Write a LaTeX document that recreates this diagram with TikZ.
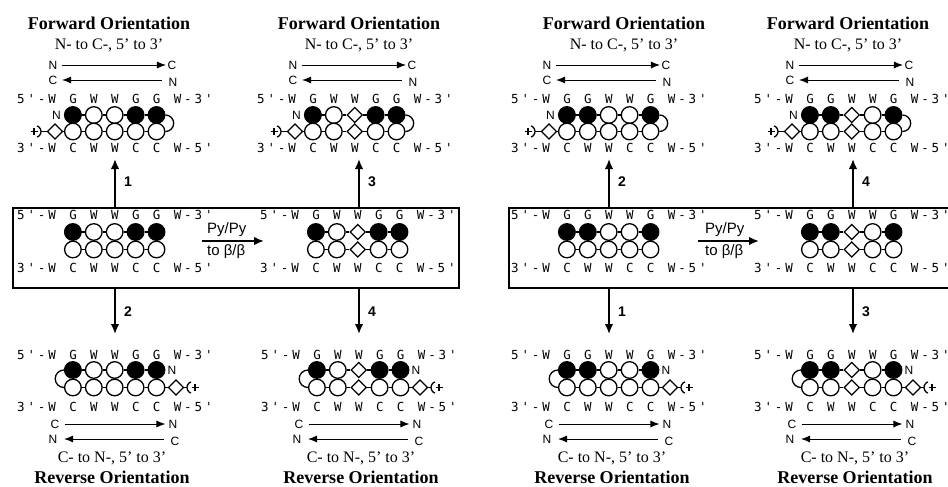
\documentclass[tikz,border=0pt]{standalone}
\usepackage{fontspec}
\setmainfont{Liberation Serif}
\setsansfont{Liberation Sans}
\newfontfamily\seqfont{DejaVu Sans Mono}
\usetikzlibrary{arrows.meta,shapes.geometric}

% evenly spaced monospace characters; a dot stands for an empty cell
\newlength\seqpitch
\setlength\seqpitch{10.45pt}
\makeatletter
\def\monostr#1{\monostr@a#1\relax}
\def\monostr@a#1{\ifx\relax#1\else\makebox[\seqpitch]{\ifx.#1\else#1\fi}\expandafter\monostr@a\fi}
\makeatother

\def\pitch{20.9}
\def\seqshift{36.6}

\tikzset{
  bead/.style={circle, draw, line width=1.3pt, minimum size=16.6pt, inner sep=0pt, fill=white},
  beadO/.style={bead},
  beadF/.style={bead, fill=black},
  beadD/.style={diamond, draw, line width=1.3pt, minimum size=15.5pt, inner sep=0pt, fill=white},
  link/.style={line width=1.3pt},
  seq/.style={inner sep=0pt, anchor=west, font=\seqfont\fontsize{12.5}{12.5}\selectfont},
  tag/.style={inner sep=0pt, font=\sffamily\fontsize{12}{12}\selectfont},
  ttl/.style={inner sep=0pt, font=\bfseries\fontsize{18}{18}\selectfont},
  subttl/.style={inner sep=0pt, font=\fontsize{16}{16}\selectfont},
  numlbl/.style={inner sep=0pt, font=\sffamily\bfseries\fontsize{14}{14}\selectfont},
  pytext/.style={inner sep=0pt, anchor=west, font=\sffamily\fontsize{15}{15}\selectfont},
  ncarrow/.style={line width=0.9pt, -{Latex[length=9pt,width=7pt]}},
  cnarrow/.style={line width=0.9pt, {Latex[length=9pt,width=7pt]}-},
  varrow/.style={line width=1.7pt, -{Latex[length=10pt,width=8.5pt]}},
  pyarrow/.style={line width=1.7pt, -{Latex[length=10pt,width=8.5pt]}},
  capline/.style={line width=1.5pt},
  panelbox/.style={draw, line width=2pt, inner sep=0pt, anchor=north west,
    minimum width=446pt, minimum height=80pt},
}

% two strands of beads, rows at #3 and #4
\newcommand\beadrows[6]{%
  \foreach \t [count=\i] in {#5} \node[bead\t] (#1-t\i) at ({#2+\pitch*\i},#3) {};
  \foreach \t [count=\i] in {#6} \node[bead\t] (#1-b\i) at ({#2+\pitch*\i},#4) {};
  \foreach \i [evaluate=\i as \j using int(\i+1)] in {1,...,4} {
    \draw[link] (#1-t\i) -- (#1-t\j);
    \draw[link] (#1-b\i) -- (#1-b\j);
  }
}

% hairpin in the forward orientation; #6 = centre of the headings
\newcommand\fwdunit[6]{%
  \node[ttl] (#1-ttl) at (#6,23) {Forward Orientation};
  \node[subttl] (#1-sub) at (#6,45) {N- to C-, 5' to 3'};
  \node[tag] (#1-n1) at ({#2+1},65) {N};
  \node[tag] (#1-c1) at ({#2+120},65) {C};
  \draw[ncarrow, shorten <=4.5pt, shorten >=1.5pt] (#1-n1.east) -- (#1-c1.west);
  \node[tag] (#1-c2) at ({#2+1},80) {C};
  \node[tag] (#1-n2) at ({#2+121},82) {N};
  \draw[cnarrow, shorten <=4.5pt, shorten >=6pt] (#1-c2.east) -- (#1-n2.west |- #1-c2.east);
  \node[seq] (#1-s5) at ({#2-\seqshift},99) {\monostr{#3}};
  \beadrows{#1}{#2}{115}{131.5}{#4}{#5}
  \node[tag] (#1-nt) at ({#2+4.5},115) {N};
  \node[beadD] (#1-d0) at ({#2+3},131.5) {};
  \draw[link] (#1-d0) -- (#1-b1);
  \coordinate (#1-cap) at ({#2-17},131.5);
  \coordinate (#1-capr) at ({#2-11},131.5);
  \draw[link] ([shift={(-70:6)}]#1-cap) arc[start angle=-70, end angle=70, radius=6];
  \draw[link] (#1-capr) -- (#1-d0);
  \draw[capline] ({#2-21.5},131.5) -- ({#2-14.5},131.5) ({#2-18},128) -- ({#2-18},135);
  \draw[link] (#1-t5.east) arc[start angle=-90, end angle=90, radius=8.25];
  \node[seq] (#1-s3) at ({#2-\seqshift},148) {\monostr{3'-W.C.W.W.C.C.W-5'}};
}

% pair of strands inside the framed panel
\newcommand\midunit[5]{%
  \node[seq] (#1-s5) at ({#2-\seqshift},215) {\monostr{#3}};
  \beadrows{#1}{#2}{232}{249.5}{#4}{#5}
  \node[seq] (#1-s3) at ({#2-\seqshift},268) {\monostr{3'-W.C.W.W.C.C.W-5'}};
}

% hairpin in the reverse orientation; #6 = centre of the headings
\newcommand\revunit[6]{%
  \node[seq] (#1-s5) at ({#2-\seqshift},355) {\monostr{#3}};
  \beadrows{#1}{#2}{370}{387.5}{#4}{#5}
  \node[tag] (#1-nt) at ({#2+120},370) {N};
  \node[beadD] (#1-d6) at ({#2+124},387.5) {};
  \draw[link] (#1-b5) -- (#1-d6);
  \coordinate (#1-cap) at ({#2+141},387.5);
  \coordinate (#1-capl) at ({#2+135},387.5);
  \draw[link] ([shift={(110:6)}]#1-cap) arc[start angle=110, end angle=250, radius=6];
  \draw[link] (#1-d6) -- (#1-capl);
  \draw[capline] ({#2+139.5},387.5) -- ({#2+146.5},387.5) ({#2+143},384) -- ({#2+143},391);
  \draw[link] (#1-t1.west) arc[start angle=-90, end angle=-270, radius=8.75];
  \node[seq] (#1-s3) at ({#2-\seqshift},407) {\monostr{3'-W.C.W.W.C.C.W-5'}};
  \node[tag] (#1-c1) at ({#2+3},424) {C};
  \node[tag] (#1-n1) at ({#2+121},424) {N};
  \draw[ncarrow, shorten <=5pt, shorten >=3pt] (#1-c1.east) -- (#1-n1.west);
  \node[tag] (#1-n2) at ({#2+1},439) {N};
  \node[tag] (#1-c2) at ({#2+123},441) {C};
  \draw[cnarrow, shorten <=6.5pt, shorten >=6pt] (#1-n2.east) -- (#1-c2.west |- #1-n2.east);
  \node[subttl] (#1-sub) at (#6,458) {C- to N-, 5' to 3'};
  \node[ttl] (#1-ttl) at (#6,477.5) {Reverse Orientation};
}

% arrows from the panel to a hairpin, with its number
\newcommand\steparrowup[4]{%
  \coordinate (#1) at (#2,159);
  \draw[varrow] (#3.north -| #1) -- (#1);
  \node[numlbl] (#1-lbl) at ({#2+13},182) {#4};
}
\newcommand\steparrowdown[4]{%
  \coordinate (#1) at (#2,334);
  \draw[varrow] (#3.south -| #1) -- (#1);
  \node[numlbl] (#1-lbl) at ({#2+13},312) {#4};
}

\begin{document}
\begin{tikzpicture}[x=1pt, y=-1pt]
\useasboundingbox (0,0) rectangle (948,487);

% ---------- left panel ----------
\node[panelbox] (boxA) at (12,207) {};
\midunit{A1m}{52}{5'-W.G.W.W.G.G.W-3'}{F,O,O,F,F}{O,O,O,O,O}
\midunit{A2m}{295}{5'-W.G.W.W.G.G.W-3'}{F,O,D,F,F}{O,O,D,O,O}
\coordinate (pyA-l) at (202,241);
\coordinate (pyA-r) at (264,241);
\draw[pyarrow] (pyA-l) -- (pyA-r);
\node[pytext] (pyA-t) at (207,230) {Py/Py};
\node[pytext] (pyA-b) at (207,252) {to β/β};

\fwdunit{A1f}{52}{5'-W.G.W.W.G.G.W-3'}{F,O,O,F,F}{O,O,O,O,O}{109}
\fwdunit{A2f}{292}{5'-W.G.W.W.G.G.W-3'}{F,O,D,F,F}{O,O,D,O,O}{359}
\revunit{A1r}{52}{5'-W.G.W.W.G.G.W-3'}{F,O,O,F,F}{O,O,O,O,O}{112}
\revunit{A2r}{296}{5'-W.G.W.W.G.G.W-3'}{F,O,D,F,F}{O,O,D,O,O}{361}

\steparrowup{a1up}{115}{boxA}{1}
\steparrowup{a2up}{359}{boxA}{3}
\steparrowdown{a1dn}{115}{boxA}{2}
\steparrowdown{a2dn}{359}{boxA}{4}

% ---------- right panel ----------
\node[panelbox] (boxB) at (508,207) {};
\midunit{B1m}{546}{5'-W.G.G.W.W.G.W-3'}{F,F,O,O,F}{O,O,O,O,O}
\midunit{B2m}{789}{5'-W.G.G.W.W.G.W-3'}{F,F,D,O,F}{O,O,D,O,O}
\coordinate (pyB-l) at (698,241);
\coordinate (pyB-r) at (759,241);
\draw[pyarrow] (pyB-l) -- (pyB-r);
\node[pytext] (pyB-t) at (705,230) {Py/Py};
\node[pytext] (pyB-b) at (705,252) {to β/β};

\fwdunit{B1f}{546}{5'-W.G.G.W.W.G.W-3'}{F,F,O,O,F}{O,O,O,O,O}{624}
\fwdunit{B2f}{789}{5'-W.G.G.W.W.G.W-3'}{F,F,D,O,F}{O,O,D,O,O}{848}
\revunit{B1r}{546}{5'-W.G.G.W.W.G.W-3'}{F,F,O,O,F}{O,O,O,O,O}{612}
\revunit{B2r}{789}{5'-W.G.G.W.W.G.W-3'}{F,F,D,O,F}{O,O,D,O,O}{855}

\steparrowup{b1up}{609}{boxB}{2}
\steparrowup{b2up}{853}{boxB}{4}
\steparrowdown{b1dn}{609}{boxB}{1}
\steparrowdown{b2dn}{853}{boxB}{3}
\end{tikzpicture}
\end{document}
